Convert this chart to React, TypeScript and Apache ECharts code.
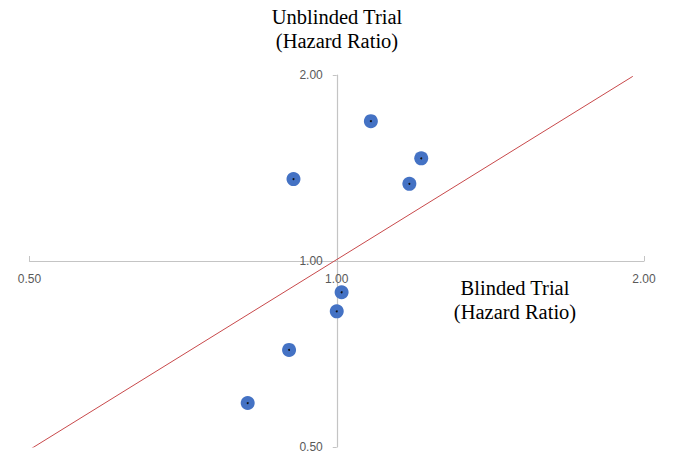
import React, { useEffect, useRef } from "react";
import * as echarts from "echarts";

const blindedHR = [1.08, 1.21, 1.178, 0.907, 1.011, 1.0, 0.898, 0.818];
const unblindedHR = [1.684, 1.466, 1.333, 1.357, 0.89, 0.829, 0.718, 0.589];
const refLineX = [0.5, 1.95];
const refLineY = [0.495, 1.99];
const axisTicks = [0.5, 1, 2];

const W = 680;
const H = 461;
const gridLeft = 29.5;
const gridRight = 36;
const gridTop = 75;
const gridBottom = 14;

export default function App() {
  const ref = useRef<HTMLDivElement>(null);
  useEffect(() => {
    if (!ref.current) return;
    const chart = echarts.init(ref.current, undefined, { renderer: "svg" });
    const gw = W - gridLeft - gridRight;
    const gh = H - gridTop - gridBottom;
    const points = blindedHR.map((x, i) => [x, unblindedHR[i]]);
    const linePts = refLineX.map((x, i) => [x, refLineY[i]]);
    const labelStyle = {
      color: "#595959",
      fontSize: 12,
      fontFamily: "Liberation Sans, Arial, sans-serif",
      formatter: (v: number) => v.toFixed(2),
    };
    const titleFont = "Liberation Serif, 'Times New Roman', serif";
    chart.setOption({
      animation: false,
      grid: { left: gridLeft, right: gridRight, top: gridTop, bottom: gridBottom, containLabel: false },
      xAxis: {
        type: "log",
        logBase: 2,
        min: axisTicks[0],
        max: axisTicks[2],
        interval: 1,
        offset: -gh / 2,
        axisLine: { show: true, onZero: false, lineStyle: { color: "#c4c4c4", width: 1.2 } },
        axisTick: { show: true, inside: true, length: 5, lineStyle: { color: "#c4c4c4" } },
        axisLabel: { ...labelStyle, margin: 12 },
        splitLine: { show: false },
        minorTick: { show: false },
      },
      yAxis: {
        type: "log",
        logBase: 2,
        min: axisTicks[0],
        max: axisTicks[2],
        interval: 1,
        offset: -gw / 2,
        axisLine: { show: true, onZero: false, lineStyle: { color: "#c4c4c4", width: 1.2 } },
        axisTick: { show: true, inside: false, length: 4, lineStyle: { color: "#c4c4c4" } },
        axisLabel: { ...labelStyle, margin: 14 },
        splitLine: { show: false },
      },
      series: [
        {
          type: "line",
          data: linePts,
          symbol: "none",
          lineStyle: { color: "#c8494b", width: 1 },
          z: 1,
        },
        {
          type: "scatter",
          data: points,
          symbol: "circle",
          symbolSize: 14,
          itemStyle: { color: "#4472c4", opacity: 1 },
          z: 3,
        },
        {
          type: "scatter",
          data: points,
          symbol: "circle",
          symbolSize: 2,
          itemStyle: { color: "#111111", opacity: 1 },
          z: 4,
        },
      ],
      graphic: [
        {
          type: "text",
          x: 337,
          y: 5,
          style: {
            text: "Unblinded Trial\n(Hazard Ratio)",
            font: `20.5px ${titleFont}`,
            fill: "#000",
            align: "center",
            lineHeight: 24,
          },
        },
        {
          type: "text",
          x: 515,
          y: 276,
          style: {
            text: "Blinded Trial\n(Hazard Ratio)",
            font: `20.5px ${titleFont}`,
            fill: "#000",
            align: "center",
            lineHeight: 24,
          },
        },
      ],
    });
    return () => chart.dispose();
  }, []);
  return (
    <div
      ref={ref}
      style={{ position: "fixed", left: 0, top: 0, width: W, height: H, background: "#fff" }}
    />
  );
}
